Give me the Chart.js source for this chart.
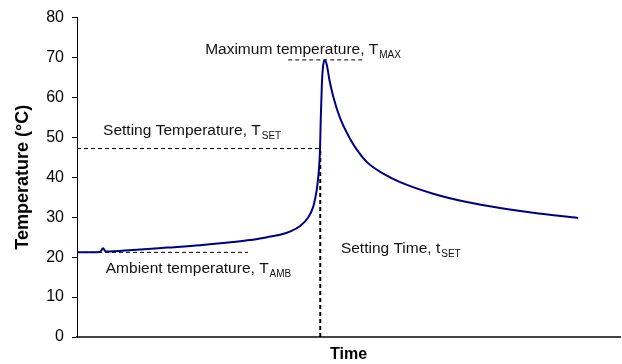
<!DOCTYPE html>
<html>
<head>
<meta charset="utf-8">
<script src="https://cdn.jsdelivr.net/npm/chart.js@4"></script>
<style>
  html, body { margin: 0; padding: 0; background: #fff; }
  #wrap { width: 622px; height: 364px; }
</style>
</head>
<body>
<div id="wrap"><canvas id="myChart" width="622" height="364"></canvas></div>
<script>
// Zaman (keyfi birim) ve sıcaklık (°C) okumaları
const timeValues = [0, 4.2, 4.8, 5.3, 10.3, 16.6, 22.7, 28.7, 31.9, 35.0, 37.4, 39.2, 41.1, 42.6, 43.5, 43.8, 44.3, 44.75, 44.9, 45.1, 45.3, 45.6, 46.0, 46.5, 47.2, 48.4, 50.3, 51.5, 53.4, 56.4, 59.5, 65.6, 71.8, 77.9, 84.0, 92.3];
const tempValues = [21.2, 21.3, 22.2, 21.4, 21.8, 22.4, 23.0, 23.8, 24.3, 25.0, 25.6, 26.4, 27.8, 30.0, 32.6, 34.3, 38.4, 46.8, 55.1, 63.4, 67.6, 69.3, 68.2, 64.3, 60.2, 55.0, 49.6, 47.0, 43.8, 40.9, 38.8, 35.9, 33.8, 32.3, 31.1, 29.8];

// Referans değerleri
const ambientTemp = 21.2;
const settingTemp = 47.2;
const maxTemp = 69.4;
const settingTime = 44.8;
const ambientLineEnd = 31.5;
const maxLineRange = [38.9, 52.7];

const yTicks = [0, 10, 20, 30, 40, 50, 60, 70, 80];

// Etiketler: metin, alt simge, konum (zaman, sıcaklık)
const labelTexts = ['Maximum temperature, T', 'Setting Temperature, T', 'Ambient temperature, T', 'Setting Time, t'];
const labelSubs = ['MAX', 'SET', 'AMB', 'SET'];
const labelTimes = [23.6, 4.8, 5.3, 48.6];
const labelTemps = [70.8, 50.5, 16.0, 21.0];

const curve = timeValues.map((t, i) => ({ x: t, y: tempValues[i] }));

const dashed = (pts, w) => ({
  data: pts,
  borderColor: '#000',
  borderWidth: w,
  borderDash: [4, 3],
  pointRadius: 0,
  fill: false
});

const labelPlugin = {
  id: 'labelPlugin',
  afterDatasetsDraw(chart) {
    const { ctx, scales: { x, y } } = chart;
    ctx.save();
    ctx.fillStyle = '#111';
    ctx.textBaseline = 'alphabetic';
    ctx.textAlign = 'left';
    labelTexts.forEach((txt, i) => {
      const px = x.getPixelForValue(labelTimes[i]);
      const py = y.getPixelForValue(labelTemps[i]);
      ctx.font = '15.5px "Liberation Sans", Arial, sans-serif';
      ctx.fillText(txt, px, py);
      const w = ctx.measureText(txt).width;
      ctx.font = '10px "Liberation Sans", Arial, sans-serif';
      ctx.fillText(labelSubs[i], px + w + 1, py + 4);
    });
    ctx.restore();
  }
};

const ctx = document.getElementById('myChart');

new Chart(ctx, {
  type: 'line',
  data: {
    datasets: [
      {
        data: curve,
        borderColor: '#000080',
        borderWidth: 2,
        pointRadius: 0,
        cubicInterpolationMode: 'monotone',
        fill: false
      },
      dashed([{ x: 0, y: ambientTemp }, { x: ambientLineEnd, y: ambientTemp }], 1),
      dashed([{ x: 0, y: settingTemp }, { x: settingTime, y: settingTemp }], 1),
      dashed([{ x: maxLineRange[0], y: maxTemp }, { x: maxLineRange[1], y: maxTemp }], 1),
      dashed([{ x: settingTime, y: 0 }, { x: settingTime, y: settingTemp }], 2)
    ]
  },
  options: {
    responsive: false,
    animation: false,
    layout: { padding: { top: 17, right: 2, left: 0, bottom: 0 } },
    plugins: { legend: { display: false }, tooltip: { enabled: false } },
    scales: {
      x: {
        type: 'linear',
        min: 0,
        max: 100,
        ticks: { display: false },
        grid: { display: false },
        border: { display: true, color: '#444', width: 2 },
        title: {
          display: true,
          text: 'Time',
          color: '#000',
          font: { family: '"Liberation Sans", Arial, sans-serif', size: 16, weight: 'bold' },
          padding: 0
        },
        afterFit(scale) { scale.height = 27; }
      },
      y: {
        min: 0,
        max: 80,
        afterBuildTicks(scale) { scale.ticks = yTicks.map(v => ({ value: v })); },
        ticks: {
          color: '#000',
          padding: 8,
          font: { family: '"Liberation Sans", Arial, sans-serif', size: 16 }
        },
        grid: { drawOnChartArea: false, drawTicks: true, tickLength: 5, color: '#000' },
        border: { display: true, color: '#000', width: 1 },
        title: {
          display: true,
          text: 'Temperature (°C)',
          color: '#000',
          font: { family: '"Liberation Sans", Arial, sans-serif', size: 18, weight: 'bold' },
          padding: { top: 12, bottom: 0 }
        },
        afterFit(scale) { scale.width = 77; }
      }
    }
  },
  plugins: [labelPlugin]
});
</script>
</body>
</html>
